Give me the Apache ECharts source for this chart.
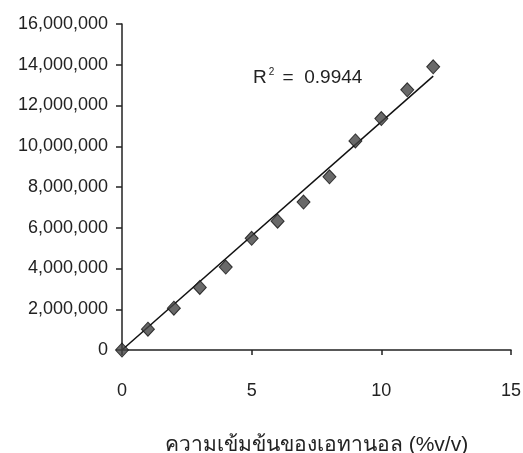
<!DOCTYPE html>
<html>
<head>
<meta charset="utf-8">
<script src="https://cdn.jsdelivr.net/npm/echarts@6/dist/echarts.min.js"></script>
<style>
  html, body { margin: 0; padding: 0; background: #fff; }
  #main { width: 523px; height: 453px; }
</style>
</head>
<body>
<div id="main"></div>
<script>
// ความเข้มข้น (%v/v) กับ สัญญาณ
var concentration = [0, 1, 2, 3, 4, 5, 6, 7, 8, 9, 10, 11, 12];
var signal = [0, 1020000, 2050000, 3070000, 4070000, 5480000, 6320000, 7260000,
    8500000, 10260000, 11360000, 12770000, 13900000];
var rSquared = '0.9944';

// เส้นแนวโน้ม (least squares ผ่านจุดกำเนิด)
var sxy = 0, sxx = 0;
concentration.forEach(function (x, i) {
    sxy += x * signal[i];
    sxx += x * x;
});
var slope = sxy / sxx;
var xLast = concentration[concentration.length - 1];
var trendData = [[0, 0], [xLast, slope * xLast]];

var font = "'Liberation Sans', Arial, sans-serif";
var chart = echarts.init(document.getElementById('main'));

var option = {
    animation: false,
    grid: { left: 122, right: 12, top: 24, bottom: 103, outerBoundsMode: 'none', containLabel: false },
    xAxis: {
        type: 'value',
        min: 0,
        max: 15,
        interval: 5,
        name: 'ความเข้มข้นของเอทานอล (%v/v)',
        nameLocation: 'middle',
        nameGap: 85,
        nameTextStyle: { color: '#222', fontSize: 21, fontFamily: font },
        axisLine: { lineStyle: { color: '#222', width: 1.5 } },
        axisTick: { show: true, length: 5, lineStyle: { color: '#222', width: 1.5 } },
        axisLabel: { color: '#222', fontSize: 18, fontFamily: font, margin: 32 },
        splitLine: { show: false }
    },
    yAxis: {
        type: 'value',
        min: 0,
        max: 16000000,
        interval: 2000000,
        axisLine: { show: true, lineStyle: { color: '#222', width: 1.5 } },
        axisTick: { show: true, length: 6, lineStyle: { color: '#222', width: 1.5 } },
        axisLabel: {
            color: '#222', fontSize: 18, fontFamily: font, margin: 14,
            formatter: function (v) { return v.toLocaleString('en-US'); }
        },
        splitLine: { show: false }
    },
    graphic: [{
        type: 'text',
        left: 253,
        top: 67,
        style: {
            text: '{r|R}{s|2}{r| =  ' + rSquared + '}',
            rich: {
                r: { fontSize: 19, fontFamily: font, fill: '#222', verticalAlign: 'bottom' },
                s: { fontSize: 10, fontFamily: font, fill: '#222', verticalAlign: 'top', padding: [0, 3, 10, 2] }
            }
        }
    }],
    series: [
        {
            type: 'line',
            data: trendData,
            symbol: 'none',
            lineStyle: { color: '#111', width: 1.5 },
            z: 1
        },
        {
            type: 'scatter',
            data: concentration.map(function (x, i) { return [x, signal[i]]; }),
            symbol: 'diamond',
            symbolSize: [13, 14],
            clip: false,
            itemStyle: { color: '#444', borderColor: '#111', borderWidth: 1 },
            z: 3
        }
    ]
};

chart.setOption(option);

window.addEventListener('resize', function () {
    chart.resize();
});
</script>
</body>
</html>
